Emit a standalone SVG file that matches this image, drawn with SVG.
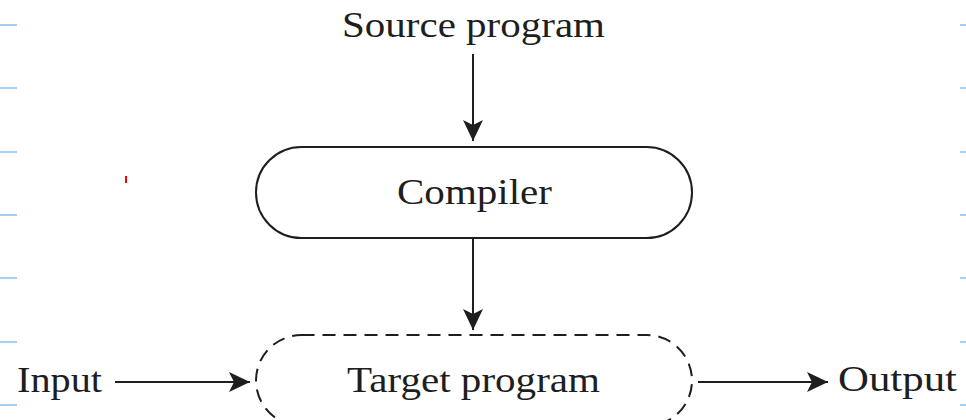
<svg xmlns="http://www.w3.org/2000/svg" width="966" height="420" viewBox="0 0 966 420">
  <style>
    .lbl { font-family: "Liberation Serif", "DejaVu Serif", serif; font-size: 36px; fill: #1e1e1e; }
    .box { fill: none; stroke: #1e1e1e; stroke-width: 2; }
    .dash { stroke-dasharray: 13 8; }
    .conn { stroke: #1e1e1e; stroke-width: 2; fill: none; marker-end: url(#ah); }
    .guide { stroke: #a8d0f5; stroke-width: 2; }
  </style>
  <defs>
    <marker id="ah" markerWidth="24" markerHeight="22" refX="21" refY="10" orient="auto" markerUnits="userSpaceOnUse">
      <path d="M0,0 L21,10 L0,20 L5,10 Z" fill="#1e1e1e"/>
    </marker>
  </defs>
  <rect width="966" height="420" fill="#fff"/>
  <g id="guides">
    <line class="guide" x1="0" y1="25" x2="17" y2="25"/>
    <line class="guide" x1="0" y1="88" x2="17" y2="88"/>
    <line class="guide" x1="0" y1="152" x2="17" y2="152"/>
    <line class="guide" x1="0" y1="215" x2="17" y2="215"/>
    <line class="guide" x1="0" y1="278" x2="17" y2="278"/>
    <line class="guide" x1="0" y1="342" x2="17" y2="342"/>
    <line class="guide" x1="0" y1="405" x2="17" y2="405"/>
    <line class="guide" x1="960" y1="25" x2="966" y2="25"/>
    <line class="guide" x1="960" y1="88" x2="966" y2="88"/>
    <line class="guide" x1="960" y1="152" x2="966" y2="152"/>
    <line class="guide" x1="960" y1="215" x2="966" y2="215"/>
    <line class="guide" x1="960" y1="278" x2="966" y2="278"/>
    <line class="guide" x1="960" y1="342" x2="966" y2="342"/>
    <line class="guide" x1="960" y1="405" x2="966" y2="405"/>
  </g>
  <rect x="125" y="176" width="2" height="7" fill="#f00"/>
  <g id="source">
    <text class="lbl" x="342" y="37" textLength="263" lengthAdjust="spacingAndGlyphs">Source program</text>
  </g>
  <g id="compiler">
    <rect class="box" x="256" y="147" width="436" height="91" rx="45.5" ry="45.5"/>
    <text class="lbl" x="397" y="204" textLength="155" lengthAdjust="spacingAndGlyphs">Compiler</text>
  </g>
  <g id="target">
    <rect class="box dash" x="256" y="335" width="436" height="91" rx="45.5" ry="45.5"/>
    <text class="lbl" x="347" y="392" textLength="253" lengthAdjust="spacingAndGlyphs">Target program</text>
  </g>
  <g id="input">
    <text class="lbl" x="17" y="392" textLength="85" lengthAdjust="spacingAndGlyphs">Input</text>
  </g>
  <g id="output">
    <text class="lbl" x="838" y="391" textLength="119" lengthAdjust="spacingAndGlyphs">Output</text>
  </g>
  <g id="connectors">
    <line class="conn" x1="473" y1="54" x2="473" y2="141"/>
    <line class="conn" x1="473" y1="239" x2="473" y2="330"/>
    <line class="conn" x1="115" y1="382" x2="250" y2="382"/>
    <line class="conn" x1="698" y1="382" x2="828" y2="382"/>
  </g>
</svg>
